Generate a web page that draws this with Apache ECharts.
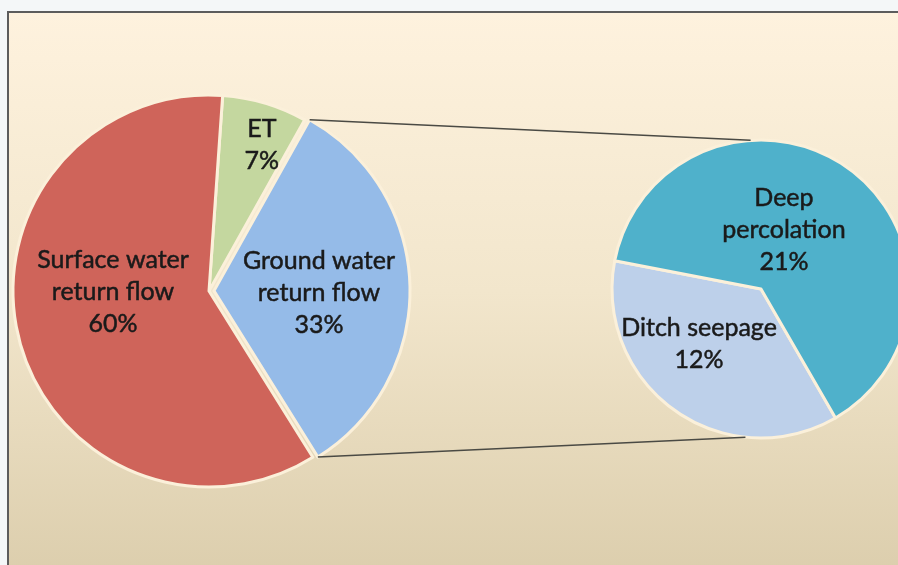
<!DOCTYPE html>
<html>
<head>
<meta charset="utf-8">
<script src="https://cdn.jsdelivr.net/npm/echarts@6/dist/echarts.min.js"></script>
<style>
  html, body { margin: 0; padding: 0; background: #f4f7f8; }
  #chart { width: 898px; height: 565px; }
</style>
</head>
<body>
<div id="chart"></div>
<script>
// ---- data ----
const mainCategories = ['ET', 'Ground water\nreturn flow', 'Surface water\nreturn flow'];
const mainValues = [7, 33, 60];
const mainColors = ['#C4D79F', '#95BBE8', '#CF645A'];
const subCategories = ['Ditch seepage', 'Deep\npercolation'];
const subValues = [12, 21];
const subColors = ['#BDD0EA', '#4FB1CB'];

// label nudges (dx, dy) relative to ECharts' inside position
const mainLabelShift = [[24, -49], [4, 5], [2, -23]];
const subLabelShift = [[-17, -8], [-22, 4]];

const chart = echarts.init(document.getElementById('chart'), null, { renderer: 'canvas' });

const labelStyle = {
  show: true,
  position: 'inside',
  formatter: '{b}\n{c}%',
  fontFamily: 'Lato, "Open Sans", sans-serif',
  fontSize: 25,
  lineHeight: 32,
  color: '#1a1a1a',
  textBorderColor: '#1a1a1a',
  textBorderWidth: 0.5
};

const option = {
  backgroundColor: '#f4f7f8',
  animation: false,
  graphic: [{
    type: 'rect',
    z: -10,
    shape: { x: 8, y: 12, width: 900, height: 560 },
    style: {
      fill: new echarts.graphic.LinearGradient(0, 0, 0, 1, [
        { offset: 0, color: '#FEF2DE' },
        { offset: 0.5, color: '#F2E6CC' },
        { offset: 1, color: '#DCCEAD' }
      ]),
      stroke: '#5c5c5c',
      lineWidth: 2
    }
  }],
  series: [
    {
      type: 'pie',
      name: 'main',
      center: [209, 291],
      radius: [0, 196],
      startAngle: 86,
      clockwise: true,
      selectedMode: 'multiple',
      selectedOffset: 5,
      data: mainCategories.map((n, i) => ({
        name: n, value: mainValues[i],
        selected: i === 1,
        itemStyle: { color: mainColors[i] }
      })),
      itemStyle: { borderColor: '#FBF0DA', borderWidth: 3 },
      label: labelStyle,
      labelLine: { show: false },
      labelLayout: p => ({ dx: mainLabelShift[p.dataIndex][0], dy: mainLabelShift[p.dataIndex][1] }),
      emphasis: { disabled: true }
    },
    {
      type: 'pie',
      name: 'sub',
      center: [761, 289],
      radius: [0, 149],
      startAngle: -60,
      clockwise: true,
      data: subCategories.map((n, i) => ({
        name: n, value: subValues[i],
        itemStyle: { color: subColors[i] }
      })),
      itemStyle: { borderColor: '#FBF0DA', borderWidth: 3 },
      label: labelStyle,
      labelLine: { show: false },
      labelLayout: p => ({ dx: subLabelShift[p.dataIndex][0], dy: subLabelShift[p.dataIndex][1] }),
      emphasis: { disabled: true }
    }
  ]
};
chart.setOption(option);

// connector lines derived from the library's own pie layout (added directly to the renderer)
function drawConnectors() {
  try {
    const model = chart.getModel();
    const mainData = model.getSeriesByIndex(0).getData();
    const subData = model.getSeriesByIndex(1).getData();
    const L = mainData.getItemLayout(1);
    const mid = (L.startAngle + L.endAngle) / 2;
    const off = 5;
    const ox = Math.cos(mid) * off, oy = Math.sin(mid) * off;
    const p1 = [L.cx + ox + L.r * Math.cos(L.startAngle), L.cy + oy + L.r * Math.sin(L.startAngle)];
    const p2 = [L.cx + ox + L.r * Math.cos(L.endAngle), L.cy + oy + L.r * Math.sin(L.endAngle)];
    const S = subData.getItemLayout(0);
    const tilt = 4 * Math.PI / 180;
    const q1 = [S.cx + S.r * Math.cos(-Math.PI / 2 - tilt), S.cy + S.r * Math.sin(-Math.PI / 2 - tilt)];
    const q2 = [S.cx + S.r * Math.cos(Math.PI / 2 + tilt * 1.5), S.cy + S.r * Math.sin(Math.PI / 2 + tilt * 1.5)];
    const zr = chart.getZr();
    [[p1, q1], [p2, q2]].forEach(([a, b]) => {
      zr.add(new echarts.graphic.Line({
        shape: { x1: a[0], y1: a[1], x2: b[0], y2: b[1] },
        style: { stroke: '#4a4a44', lineWidth: 1.5 },
        z: 50
      }));
    });
  } catch (e) { console.error(e); }
}
drawConnectors();
</script>
</body>
</html>
